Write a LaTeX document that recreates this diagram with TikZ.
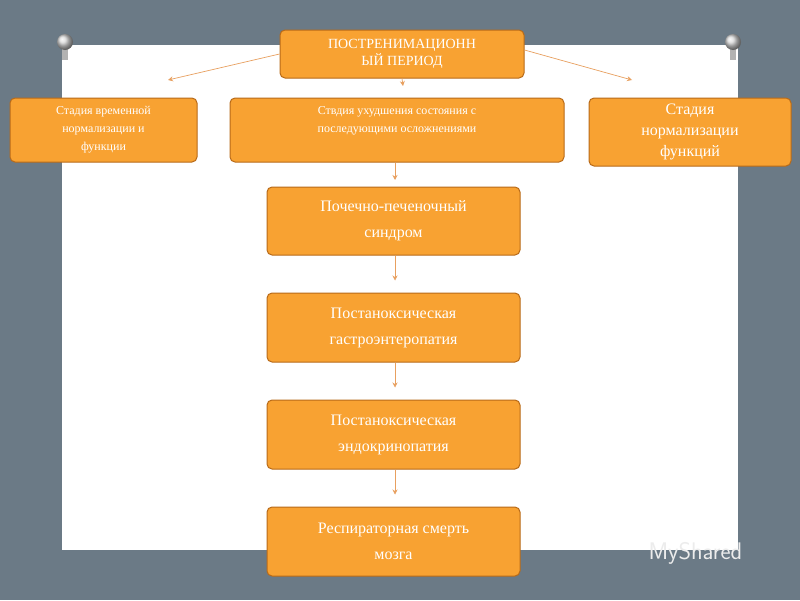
\documentclass[tikz,border=0pt]{standalone}
\usepackage{fontspec}
\usetikzlibrary{arrows.meta}
\setmainfont{Liberation Serif}
\definecolor{bgc}{HTML}{6B7A86}
\definecolor{org}{HTML}{F8A232}
\definecolor{orgd}{HTML}{B86A18}
\definecolor{arr}{HTML}{E8A060}
\begin{document}
\begin{tikzpicture}[x=1pt,y=-1pt,
  box/.style={draw=orgd,line width=1pt,fill=org,rounded corners=5pt,text=white,align=center,inner sep=0pt},
  con/.style={draw=arr,line width=0.7pt,-{Stealth[length=5pt,width=5pt]}}]
\fill[bgc] (0,0) rectangle (800,600);
\fill[white] (62,45) rectangle (738,550);
\foreach \x in {65,733}{
  \fill[gray!60] (\x-3,45) rectangle (\x+3,60);
  \shade[ball color=gray!30] (\x,42) circle (8);
}
\node[box,minimum width=244pt,minimum height=48pt,font=\fontsize{14}{17}\selectfont] (top) at (402,54) {ПОСТРЕНИМАЦИОНН\\ЫЙ ПЕРИОД};
\node[box,minimum width=187pt,minimum height=64pt,font=\fontsize{12}{18}\selectfont] (l) at (103.5,130) {Стадия временной\\нормализации и\\функции};
\node[box,minimum width=334pt,minimum height=64pt,font=\fontsize{12}{18}\selectfont,text depth=20pt] (m) at (397,130) {Ствдия ухудшения состояния с\\последующими осложнениями};
\node[box,minimum width=202pt,minimum height=68pt,font=\fontsize{16}{21}\selectfont] (r) at (690,132) {Стадия\\нормализации\\функций};
\node[box,minimum width=253pt,minimum height=68pt,font=\fontsize{16}{26}\selectfont] (b1) at (393.5,221) {Почечно-печеночный\\синдром};
\node[box,minimum width=253pt,minimum height=69pt,font=\fontsize{16}{26}\selectfont] (b2) at (393.5,327.5) {Постаноксическая\\гастроэнтеропатия};
\node[box,minimum width=253pt,minimum height=69pt,font=\fontsize{16}{26}\selectfont] (b3) at (393.5,434.5) {Постаноксическая\\эндокринопатия};
\node[box,minimum width=253pt,minimum height=69pt,font=\fontsize{16}{26}\selectfont] (b4) at (393.5,541.5) {Респираторная смерть\\мозга};
\coordinate (lt) at (168,80);
\coordinate (rt) at (632,80);
\coordinate (mt) at (403,86);
\coordinate (b1t) at (395,180);
\draw[con] (top.west) -- (lt);
\draw[con] ([yshift=4pt]top.east) -- (rt);
\draw[con] (top.south) -- (mt);
\draw[con] (m.south -| b1t) -- (b1t);
\draw[con] (b1.south -| b1t) -- ([yshift=12pt]b2.north -| b1t);
\draw[con] (b2.south -| b1t) -- ([yshift=12pt]b3.north -| b1t);
\draw[con] (b3.south -| b1t) -- ([yshift=12pt]b4.north -| b1t);
\node[text=white!85!gray,font=\sffamily\fontsize{24}{24}\selectfont,anchor=west] (wm) at (645,553) {MyShared};
\end{tikzpicture}
\end{document}
